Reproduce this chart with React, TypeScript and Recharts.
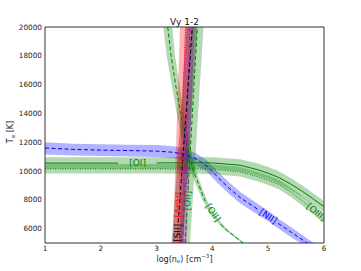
import React from "react";
import { ComposedChart, Scatter, XAxis, YAxis, Polygon } from "recharts";

type P = [number, number]; // [log(ne), Te]

// [NII] - blue, dashed
const niiLineA: P[] = [[1, 11600], [1.5, 11500], [2, 11450], [2.5, 11420], [3, 11380], [3.3, 11300], [3.5, 11150], [3.7, 10850], [3.9, 10350], [4.1, 9550], [4.3, 8800], [4.5, 8150], [4.75, 7500], [4.82, 7320]];
const niiLineB: P[] = [[5.18, 6360], [5.4, 5780], [5.7, 5000]];
const niiUpper: P[] = [[1, 12000], [1.5, 11900], [2, 11860], [2.5, 11830], [3, 11800], [3.3, 11720], [3.5, 11560], [3.7, 11250], [3.9, 10750], [4.1, 9950], [4.3, 9200], [4.5, 8550], [4.75, 7880], [5, 7230], [5.2, 6650], [5.4, 6120], [5.7, 5320], [5.82, 5000]];
const niiLower: P[] = [[1, 11150], [1.5, 11080], [2, 11040], [2.5, 11010], [3, 10970], [3.3, 10880], [3.5, 10740], [3.7, 10450], [3.9, 9950], [4.1, 9150], [4.3, 8400], [4.5, 7750], [4.75, 7120], [5, 6510], [5.2, 5950], [5.4, 5440], [5.58, 5000]];

// [OI] - green, solid
const oiLineA: P[] = [[1, 10550], [2.31, 10550]];
const oiLineB: P[] = [[3, 10560], [3.5, 10570], [4, 10560], [4.5, 10400], [4.8, 10100], [5, 9850], [5.2, 9530], [5.4, 9100], [5.6, 8620], [5.8, 8080], [6, 7520]];
const oiUpper: P[] = [[1, 10950], [2, 10950], [3, 10960], [3.5, 10970], [4, 10960], [4.5, 10820], [4.8, 10530], [5, 10280], [5.2, 9960], [5.4, 9520], [5.6, 9020], [5.8, 8480], [6, 7920]];
const oiLower: P[] = [[1, 10150], [2, 10150], [3, 10160], [3.5, 10170], [4, 10160], [4.5, 9990], [4.8, 9680], [5, 9420], [5.2, 9100], [5.4, 8680], [5.6, 8220], [5.8, 7680], [6, 7120]];

// [OIII] - green, dotted
const oiiiLine: P[] = [[1, 10150], [2, 10150], [3, 10150], [4, 10130], [4.5, 9940], [4.8, 9620], [5, 9350], [5.2, 9050], [5.4, 8550], [5.6, 7950], [5.72, 7590]];
const oiiiUpper: P[] = [[1, 10480], [2, 10480], [3, 10480], [4, 10460], [4.5, 10270], [4.8, 9950], [5, 9680], [5.2, 9380], [5.4, 8880], [5.6, 8280], [5.8, 7680], [6, 7030]];
const oiiiLower: P[] = [[1, 9820], [2, 9820], [3, 9820], [4, 9800], [4.5, 9610], [4.8, 9290], [5, 9020], [5.2, 8720], [5.4, 8220], [5.6, 7620], [5.8, 7020], [6, 6370]];

// [OII] diagonal - green, dashed
const oiiDiagLineA: P[] = [[3.2, 20000], [3.26, 18000], [3.34, 16000], [3.43, 14000], [3.53, 12000], [3.59, 11000], [3.66, 10000], [3.76, 9000], [3.86, 8000], [3.87, 7900]];
const oiiDiagLineB: P[] = [[4.15, 6300], [4.22, 6000], [4.55, 5000]];
const oiiDiagLeft: P[] = [[3.12, 20000], [3.18, 18000], [3.27, 16000], [3.36, 14000], [3.47, 12000], [3.53, 11000], [3.61, 10000], [3.71, 9000], [3.82, 8000], [3.96, 7000], [4.19, 6000], [4.53, 5000]];
const oiiDiagRight: P[] = [[3.28, 20000], [3.33, 18000], [3.41, 16000], [3.49, 14000], [3.59, 12000], [3.64, 11000], [3.71, 10000], [3.8, 9000], [3.9, 8000], [4.04, 7000], [4.25, 6000], [4.57, 5000]];

// near-vertical density diagnostics
const siiLine: P[] = [[3.387, 6450], [3.64, 20000]];
const siiLeft: P[] = [[3.27, 5000], [3.54, 20000]];
const siiRight: P[] = [[3.47, 5000], [3.73, 20000]];

const arivLineA: P[] = [[3.37, 5000], [3.387, 6650]];
const arivLineB: P[] = [[3.407, 8650], [3.52, 20000]];
const arivLeft: P[] = [[3.29, 5000], [3.42, 20000]];
const arivRight: P[] = [[3.45, 5000], [3.6, 20000]];

const cliiiLineA: P[] = [[3.47, 5000], [3.505, 9050]];
const cliiiLineB: P[] = [[3.52, 10750], [3.6, 20000]];
const cliiiLeft: P[] = [[3.4, 5000], [3.51, 20000]];
const cliiiRight: P[] = [[3.54, 5000], [3.68, 20000]];

const oiiVertLineA: P[] = [[3.51, 5000], [3.542, 7200]];
const oiiVertLineB: P[] = [[3.564, 8700], [3.73, 20000]];
const oiiVertLeft: P[] = [[3.42, 5000], [3.62, 20000]];
const oiiVertRight: P[] = [[3.6, 5000], [3.84, 20000]];

const labels = [
  { text: "[OI]", x: 2.66, y: 10550, color: "#008000", angle: 0 },
  { text: "[NII]", x: 5.0, y: 6850, color: "#0000ff", angle: 34 },
  { text: "[OIII]", x: 5.86, y: 7150, color: "#008000", angle: 38 },
  { text: "[OII]", x: 4.01, y: 7100, color: "#008000", angle: 56 },
  { text: "[SII]", x: 3.373, y: 5700, color: "#000000", angle: -87 },
  { text: "[ArIV]", x: 3.397, y: 7650, color: "#ff0000", angle: -87 },
  { text: "[OII]", x: 3.553, y: 7950, color: "#008000", angle: -87 },
  { text: "[ClIII]", x: 3.513, y: 9900, color: "#bf00bf", angle: -87 },
];

const xTicks = [1, 2, 3, 4, 5, 6];
const yTicks = [6000, 8000, 10000, 12000, 14000, 16000, 18000, 20000];

const GREEN = "#008000";
const FONT = "DejaVu Sans";

const pts = (a: P[]) => a.map(([x, y]) => ({ x, y }));
const band = (a: P[], b: P[]) => pts(a.concat([...b].reverse()));

const noDot = () => <g />;

function bandScatter(key: string, a: P[], b: P[], color: string) {
  return (
    <Scatter
      key={key}
      data={band(a, b)}
      shape={noDot}
      isAnimationActive={false}
      line={(p: any) => <Polygon points={p.points} fill={color} fillOpacity={0.3} stroke="none" />}
    />
  );
}

function lineScatter(key: string, a: P[], color: string, dash?: string) {
  return (
    <Scatter
      key={key}
      data={pts(a)}
      shape={noDot}
      isAnimationActive={false}
      line={{ stroke: color, strokeWidth: 1, strokeDasharray: dash, fill: "none" }}
    />
  );
}

const LabelShape = (props: any) => {
  const { cx, cy, payload } = props;
  return (
    <text
      x={cx}
      y={cy}
      fill={payload.color}
      fontSize={9}
      fontFamily={FONT}
      textAnchor="middle"
      dominantBaseline="central"
      transform={`rotate(${payload.angle} ${cx} ${cy})`}
    >
      {payload.text}
    </text>
  );
};

const tickFont = { fontSize: 7.3, fill: "#222", fontFamily: FONT };
const frame = { stroke: "#333", strokeWidth: 1 };

export default function App() {
  return (
    <div style={{ position: "absolute", left: 0, top: 0, width: 361, height: 271, background: "#fff" }}>
      <ComposedChart width={361} height={271} margin={{ top: 27, right: 37, bottom: 0, left: 0 }}>
        <XAxis
          type="number" dataKey="x" domain={[1, 6]} ticks={xTicks} interval={0} allowDataOverflow
          height={28} tickSize={0} tickMargin={2.5} tickLine={false} axisLine={frame} tick={tickFont}
        />
        <XAxis xAxisId="b2" type="number" domain={[1, 6]} ticks={xTicks} allowDataOverflow orientation="bottom"
          mirror tick={false} tickSize={3} axisLine={false} tickLine={frame} />
        <XAxis xAxisId="t" type="number" domain={[1, 6]} ticks={xTicks} allowDataOverflow orientation="top"
          mirror tick={false} tickSize={3} axisLine={frame} tickLine={frame} />
        <YAxis
          type="number" dataKey="y" domain={[5000, 20000]} ticks={yTicks} interval={0} allowDataOverflow
          width={45} tickSize={0} tickMargin={3} tickLine={false} axisLine={frame} tick={tickFont}
        />
        <YAxis yAxisId="l2" type="number" domain={[5000, 20000]} ticks={yTicks} allowDataOverflow orientation="left"
          mirror tick={false} tickSize={3} axisLine={false} tickLine={frame} />
        <YAxis yAxisId="r" type="number" domain={[5000, 20000]} ticks={yTicks} allowDataOverflow orientation="right"
          mirror tick={false} tickSize={3} axisLine={frame} tickLine={frame} />

        {bandScatter("niiBand", niiUpper, niiLower, "#0000ff")}
        {bandScatter("oiBand", oiUpper, oiLower, GREEN)}
        {bandScatter("oiiiBand", oiiiUpper, oiiiLower, GREEN)}
        {bandScatter("oiiDiagBand", oiiDiagLeft, oiiDiagRight, GREEN)}
        {bandScatter("oiiVertBand", oiiVertLeft, oiiVertRight, GREEN)}
        {bandScatter("cliiiBand", cliiiLeft, cliiiRight, "#bf00bf")}
        {bandScatter("siiBand", siiLeft, siiRight, "#000000")}
        {bandScatter("arivBand", arivLeft, arivRight, "#ff0000")}

        {lineScatter("niiA", niiLineA, "#0000ff", "4 2.5")}
        {lineScatter("niiB", niiLineB, "#0000ff", "4 2.5")}
        {lineScatter("oiA", oiLineA, GREEN)}
        {lineScatter("oiB", oiLineB, GREEN)}
        {lineScatter("oiii", oiiiLine, GREEN, "1 1.5")}
        {lineScatter("oiiDA", oiiDiagLineA, GREEN, "4 2.5")}
        {lineScatter("oiiDB", oiiDiagLineB, GREEN, "4 2.5")}
        {lineScatter("oiiVA", oiiVertLineA, GREEN, "4 2.5")}
        {lineScatter("oiiVB", oiiVertLineB, GREEN, "4 2.5")}
        {lineScatter("cliiiA", cliiiLineA, "#bf00bf", "4 1.5 1 1.5")}
        {lineScatter("cliiiB", cliiiLineB, "#bf00bf", "4 1.5 1 1.5")}
        {lineScatter("sii", siiLine, "#000000", "4 2.5")}
        {lineScatter("arivA", arivLineA, "#ff0000", "1 1.5")}
        {lineScatter("arivB", arivLineB, "#ff0000", "1 1.5")}

        <Scatter data={labels} shape={LabelShape} isAnimationActive={false} />
      </ComposedChart>
      <svg width={361} height={271} style={{ position: "absolute", left: 0, top: 0, pointerEvents: "none" }}>
        <text x={184.5} y={24.5} textAnchor="middle" fontSize={9} fontFamily={FONT} fill="#111">Vy 1-2</text>
        <text x={184.5} y={261.5} textAnchor="middle" fontSize={8} fontFamily={FONT} fill="#222">
          log(n<tspan fontSize={5.5} dy={1.5}>e</tspan><tspan dy={-1.5}>) [cm</tspan>
          <tspan fontSize={5.5} dy={-3.5}>−3</tspan><tspan dy={3.5}>]</tspan>
        </text>
        <text x={13} y={132} textAnchor="middle" fontSize={8} fontFamily={FONT} fill="#222" transform="rotate(-90 13 132)">
          T<tspan fontSize={5.5} dy={1.5}>e</tspan><tspan dy={-1.5}> [K]</tspan>
        </text>
      </svg>
    </div>
  );
}
